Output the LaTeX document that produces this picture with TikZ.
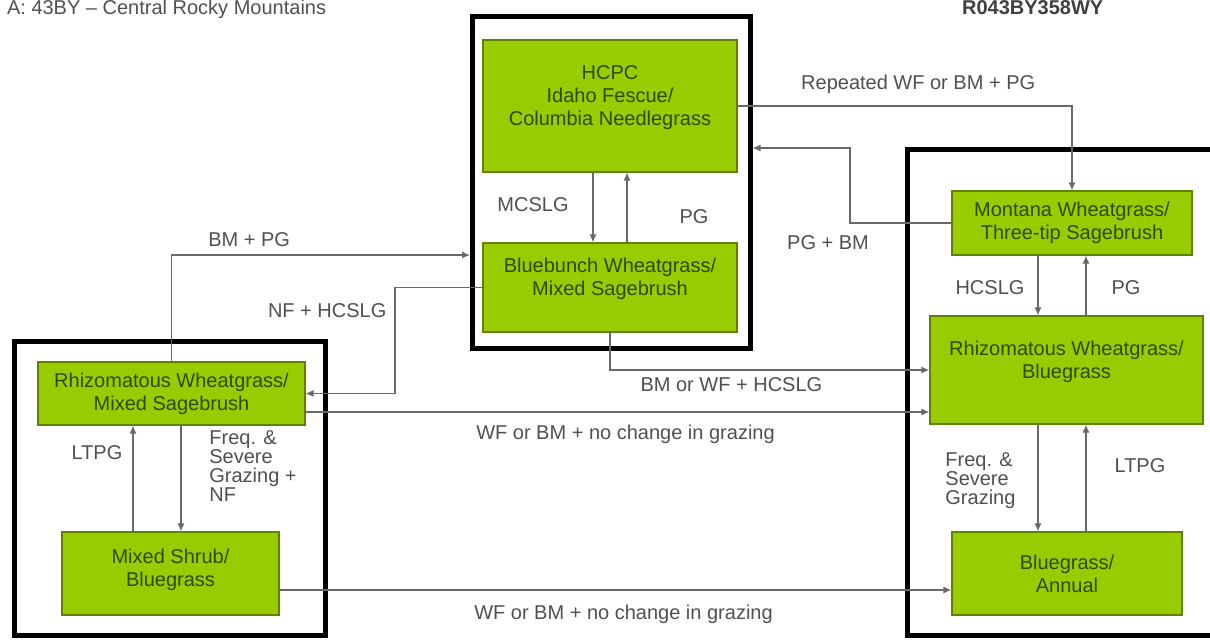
\documentclass[tikz,border=0pt]{standalone}
\usepackage{fontspec}
\setmainfont{Liberation Sans}
\usetikzlibrary{positioning,arrows.meta,calc}
\definecolor{boxgreen}{RGB}{153,204,0}
\definecolor{boxedge}{RGB}{95,130,0}
\definecolor{boxtext}{RGB}{45,75,0}
\definecolor{linegray}{RGB}{105,105,105}
\definecolor{lblgray}{RGB}{80,80,80}

\begin{document}
\begin{tikzpicture}[x=0.5pt,y=-0.5pt,font=\fontsize{10}{11.5}\selectfont,>={Latex[length=4pt,width=3.5pt]},
  box/.style={draw=boxedge,fill=boxgreen,text=boxtext,align=center,inner sep=0pt,line width=0.6pt},
  frame/.style={draw,line width=2.5pt,inner sep=0pt},
  conn/.style={draw=linegray,line width=0.6pt},
  lbl/.style={text=lblgray,inner sep=0pt,align=left,font=\fontsize{10}{9.5}\selectfont}]
  \useasboundingbox (0,0) rectangle (1210,639);
  \node[anchor=base west,text=lblgray] (mlra) at (0,14) {A: 43BY – Central Rocky Mountains};
  \node[anchor=base west,text=black!75,font=\bfseries\fontsize{10}{11.5}\selectfont] (site) at (955,14) {R043BY358WY};

  \node[frame,minimum width=138.75pt,minimum height=166pt] (cframe) at (611.25,182) {};
  \node[frame,minimum width=161.25pt,minimum height=243pt] (rframe) at (1068.75,392.5) {};
  \node[frame,minimum width=155.5pt,minimum height=147pt] (lframe) at (170,488.5) {};

  \node[box,minimum width=127pt,minimum height=66pt,text depth=10pt] (hcpc) at (610,106) {HCPC\\Idaho Fescue/\\Columbia Needlegrass};
  \node[box,minimum width=127pt,minimum height=44.5pt,text depth=11pt] (bluebunch) at (610,287.5) {Bluebunch Wheatgrass/\\Mixed Sagebrush};
  \node[box,minimum width=120pt,minimum height=32pt] (montana) at (1072,223) {Montana Wheatgrass/\\Three-tip Sagebrush};
  \node[box,minimum width=136.5pt,minimum height=54pt,text depth=10pt] (rhizoblue) at (1066.5,370) {Rhizomatous Wheatgrass/\\Bluegrass};
  \node[box,minimum width=115pt,minimum height=41.5pt] (blueann) at (1067,573.5) {Bluegrass/\\Annual};
  \node[box,minimum width=133.5pt,minimum height=31.5pt] (rhizomix) at (171.5,393.5) {Rhizomatous Wheatgrass/\\Mixed Sagebrush};
  \node[box,minimum width=108.5pt,minimum height=41.5pt,text depth=6pt] (mixshrub) at (170.5,573.5) {Mixed Shrub/\\Bluegrass};

  \foreach \x/\upper/\lower in {593/hcpc/bluebunch,1038/montana/rhizoblue,1038/rhizoblue/blueann,181/rhizomix/mixshrub}
    \draw[conn,->] (\x,0 |- \upper.south) -- (\x,0 |- \lower.north);
  \foreach \x/\upper/\lower in {627/hcpc/bluebunch,1086/montana/rhizoblue,1086/rhizoblue/blueann,133/rhizomix/mixshrub}
    \draw[conn,<-] (\x,0 |- \upper.south) -- (\x,0 |- \lower.north);

  \node[lbl] (mcslg) at (533,205) {MCSLG};
  \node[lbl] (pgtop) at (694,217) {PG};
  \node[lbl] (hcslg) at (990,288) {HCSLG};
  \node[lbl] (pgright) at (1126,288) {PG};
  \node[lbl,anchor=west] (freqright) at (945,481) {Freq. \&\\Severe\\Grazing};
  \node[lbl] (ltpgright) at (1140,466) {LTPG};
  \node[lbl,anchor=west] (freqleft) at (209,466) {Freq. \&\\Severe\\Grazing +\\NF};
  \node[lbl] (ltpgleft) at (97,453) {LTPG};

  \coordinate (pgbmturn) at (850,148);
  \coordinate (bmpg) at (0,255);
  \coordinate (nfturn) at (395,0);
  \coordinate (grz) at (0,412);
  \coordinate (grzlow) at (0,590);

  \draw[conn,->] (hcpc.east) -| (montana.north) node[lbl,pos=0.27,above=6pt]{Repeated WF or BM + PG};
  \draw[conn,->] (montana.west) -| (pgbmturn) node[lbl,pos=0.5,below=6pt,xshift=-11pt]{PG + BM} -- (pgbmturn -| cframe.east);
  \draw[conn,->] (rhizomix.north) |- (bmpg -| cframe.west) node[lbl,pos=0.63,above=4pt]{BM + PG};
  \draw[conn,->] (bluebunch.west) -| (nfturn |- rhizomix.east) node[lbl,pos=0.61,left=4pt]{NF + HCSLG} -- (rhizomix.east);
  \draw[conn,->] (bluebunch.south) |- (rhizoblue.west) node[lbl,pos=0.69,below=3.5pt]{BM or WF + HCSLG};
  \draw[conn,->] (rhizomix.east |- grz) -- (rhizoblue.west |- grz) node[lbl,midway,below=6pt,xshift=4pt]{WF or BM + no change in grazing};
  \draw[conn,->] (mixshrub.east |- grzlow) -- (blueann.west |- grzlow) node[lbl,midway,below=7pt,xshift=4pt]{WF or BM + no change in grazing};
\end{tikzpicture}
\end{document}
